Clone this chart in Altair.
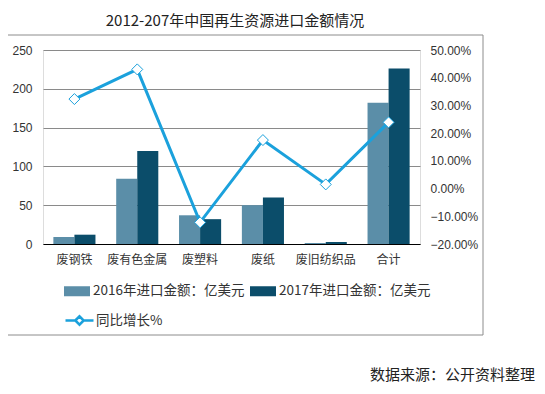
import altair as alt
import pandas as pd

cats = ['废钢铁', '废有色金属', '废塑料', '废纸', '废旧纺织品', '合计']
v2016 = [9, 84, 37, 50, 1.3, 182]
v2017 = [12, 120, 32, 60, 2.6, 226]
growth = [0.323, 0.430, -0.122, 0.175, 0.015, 0.239]
series_bar = ['2016年进口金额：亿美元', '2017年进口金额：亿美元']
series_line = '同比增长%'
title_text = '2012-207年中国再生资源进口金额情况'
source_text = '数据来源：公开资料整理'

bar_rows = []
for c, a, b in zip(cats, v2016, v2017):
    bar_rows.append({'cat': c, 'series': series_bar[0], 'value': a})
    bar_rows.append({'cat': c, 'series': series_bar[1], 'value': b})
df_bar = pd.DataFrame(bar_rows)
df_line = pd.DataFrame({'cat': cats, 'g': growth, 'series': [series_line] * len(cats)})

CJK = 'Noto Sans CJK SC'
LAT = 'Liberation Sans'

xenc = alt.X('cat:N', sort=cats, title=None,
             scale=alt.Scale(paddingInner=0.33, paddingOuter=0.165),
             axis=alt.Axis(labelAngle=0, ticks=False, domainColor='#000000', domainWidth=1,
                           labelFont=CJK, labelFontSize=12, labelColor='#333333', labelPadding=10))

bars = alt.Chart(df_bar).mark_bar().encode(
    x=xenc,
    xOffset=alt.XOffset('series:N', sort=series_bar, scale=alt.Scale(paddingInner=0, paddingOuter=0)),
    y=alt.Y('value:Q', title=None, scale=alt.Scale(domain=[0, 250], nice=False),
            axis=alt.Axis(values=[0, 50, 100, 150, 200, 250], ticks=False, domain=False,
                          gridColor='#8a8a8a', gridWidth=1, labelPadding=11, labelOverlap=False,
                          labelFont=LAT, labelFontSize=12, labelColor='#333333')),
    color=alt.Color('series:N', sort=series_bar,
                    scale=alt.Scale(domain=series_bar, range=['#5b8ea8', '#0b4d6a']),
                    legend=alt.Legend(title=None, orient='none', legendX=21, legendY=228,
                                      direction='horizontal', columns=2, columnPadding=5,
                                      symbolType='M-1,-0.385H1V0.385H-1Z', symbolSize=676,
                                      symbolStrokeWidth=0, labelFont=CJK, labelFontSize=13.5,
                                      labelColor='#333333', labelLimit=300, labelOffset=3))
)

pct_axis = alt.Axis(orient='right', values=[-0.2, -0.1, 0, 0.1, 0.2, 0.3, 0.4, 0.5],
                    format='.2%', grid=False, ticks=False, domain=False, labelPadding=10,
                    labelOverlap=False, labelBound=False, labelFlush=False,
                    labelFont=LAT, labelFontSize=12, labelColor='#333333')
yr = alt.Y('g:Q', title=None, scale=alt.Scale(domain=[-0.2, 0.5], nice=False), axis=pct_axis)

line = alt.Chart(df_line).mark_line(strokeWidth=3).encode(
    x=alt.X('cat:N', sort=cats),
    y=yr,
    stroke=alt.Stroke('series:N', scale=alt.Scale(domain=[series_line], range=['#1ba1dc']),
                      legend=alt.Legend(title=None, orient='none', legendX=21, legendY=255,
                                        symbolType='M-1,0H-0.3M0.3,0H1M-0.3,0L0,-0.3L0.3,0L0,0.3Z',
                                        symbolSize=784, symbolStrokeWidth=2.5,
                                        symbolFillColor='#ffffff',
                                        labelFont=CJK, labelFontSize=13.5, labelColor='#333333',
                                        labelOffset=1))
)
points = alt.Chart(df_line).mark_point(shape='diamond', size=121, filled=True, fill='#ffffff',
                                       strokeWidth=1, opacity=1).encode(
    x=alt.X('cat:N', sort=cats),
    y=yr,
    stroke=alt.Stroke('series:N', legend=None)
)
line_layer = alt.layer(line, points)

box = alt.Chart(pd.DataFrame({'a': [0]})).mark_rect(fill=None, stroke='#8c8c8c', strokeWidth=1).encode(
    x=alt.value(-40), x2=alt.value(440), y=alt.value(-15), y2=alt.value(285))

title = alt.Chart(pd.DataFrame({'t': [title_text]})).mark_text(
    font=CJK, fontSize=15, color='#222222', align='center', baseline='middle').encode(
    text='t:N', x=alt.value(192), y=alt.value(-29))

source = alt.Chart(pd.DataFrame({'t': [source_text]})).mark_text(
    font=CJK, fontSize=15, color='#222222', align='right', baseline='middle').encode(
    text='t:N', x=alt.value(492), y=alt.value(325))

chart = alt.layer(box, bars, line_layer, title, source).resolve_scale(
    y='independent', color='independent', stroke='independent'
).properties(
    width=377, height=194,
    padding={'left': 35, 'top': 42, 'right': 116, 'bottom': 142},
    autosize=alt.AutoSizeParams(type='none')
).configure_view(stroke=None).configure(background='#ffffff')

chart.save('out.html', embed_options={'renderer': 'svg', 'actions': False})
